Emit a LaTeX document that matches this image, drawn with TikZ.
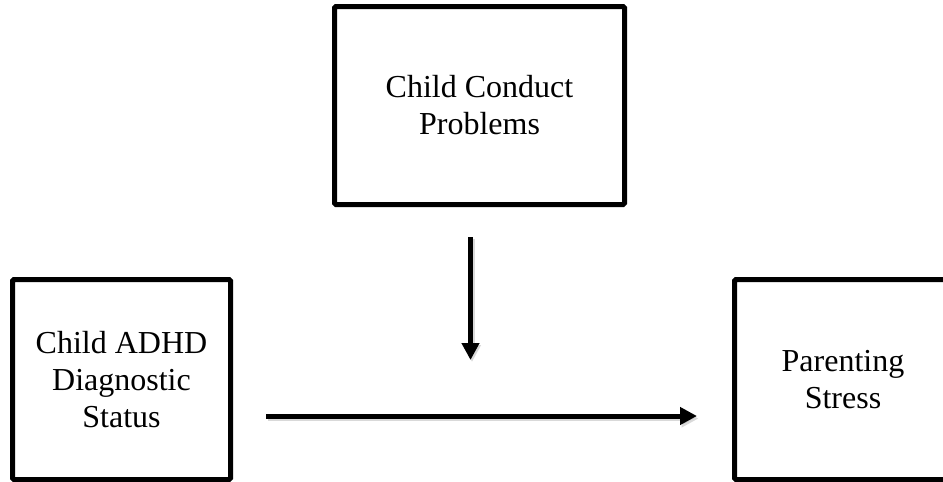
\documentclass[tikz,border=0pt]{standalone}
\usepackage{fontspec}
\setmainfont{Liberation Serif}
\usetikzlibrary{arrows.meta}
\begin{document}
\begin{tikzpicture}[x=1pt,y=-1pt,
  boxnode/.style={draw=black, line width=5pt, rounded corners=1.5pt, align=center,
    inner sep=0pt, font=\fontsize{32}{37}\selectfont},
  arr/.style={line width=5pt, -{Triangle[length=17pt,width=17pt]}},
  shad/.style={line width=5pt, draw=black!25, opacity=0.6, -{Triangle[length=17pt,width=17pt]}}]
\useasboundingbox (0,0) rectangle (943,482);
\node[boxnode, minimum width=290pt, minimum height=198pt] (top) at (479.5,105.5) {Child Conduct\\Problems};
\node[boxnode, minimum width=218pt, minimum height=200pt] (left) at (121.5,379.5) {Child ADHD\\Diagnostic\\Status};
\node[boxnode, minimum width=217pt, minimum height=200pt] (right) at (843,379.5) {Parenting\\Stress};
\coordinate (vs) at (470.5,237);
\coordinate (ve) at (470.5,360);
\coordinate (hs) at (266,416);
\coordinate (he) at (697,416);
\draw[shad] ([shift={(1.5,2)}]vs) -- ([shift={(1.5,2)}]ve);
\draw[shad] ([shift={(1.5,2.5)}]hs) -- ([shift={(1.5,2.5)}]he);
\draw[arr] (vs) -- (ve);
\draw[arr] (hs) -- (he);
\end{tikzpicture}
\end{document}
